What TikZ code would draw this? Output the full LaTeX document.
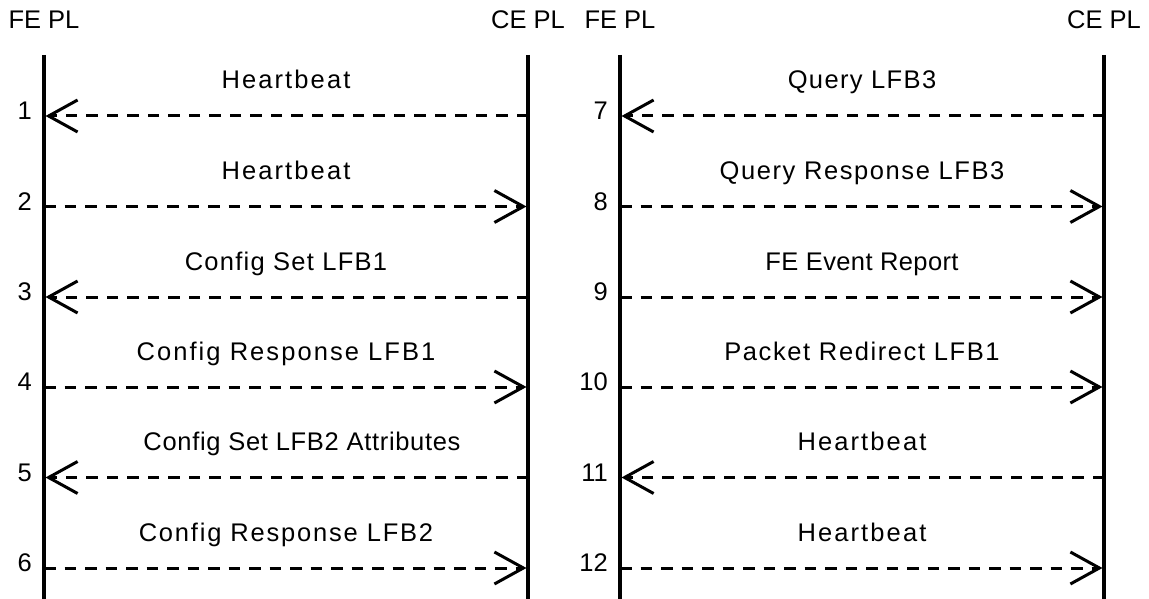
\documentclass[tikz,border=0pt]{standalone}
\usepackage{fontspec}
\setmainfont{Liberation Sans}
\usetikzlibrary{arrows.meta,calc}
\begin{document}
\begin{tikzpicture}[x=1pt,y=-1pt,
  life/.style={line width=3.2pt},
  msg/.style={line width=3pt, dash pattern=on 11.5pt off 9pt,
    -{Straight Barb[length=29pt,width=32pt,line width=3pt]}, shorten >=1.5pt},
  txt/.style={font=\fontsize{25.5}{30}\selectfont, inner sep=0pt},
  lbl/.style={txt, anchor=base},
  num/.style={txt, anchor=base east},
  head/.style={txt, anchor=base}]
\useasboundingbox (0,0) rectangle (1149,599);
\foreach \n/\x/\t in {A/44/FE PL, B/528/CE PL, C/620/FE PL, D/1104/CE PL} {
  \node[head] (h\n) at (\x,29) {\t};
  \coordinate (t\n) at (\x,55);
  \coordinate (b\n) at (\x,599);
  \draw[life] (t\n) -- (b\n);
}
\foreach \i/\f/\s/\d/\y/\ls/\dx/\t in {
  1/A/B/A/116/8.3/0/Heartbeat,
  2/A/A/B/206.5/8.3/0/Heartbeat,
  3/A/B/A/297/5.0/0/Config Set LFB1,
  4/A/A/B/387/8.1/0/Config Response LFB1,
  5/A/B/A/477.5/2.7/16/Config Set LFB2 Attributes,
  6/A/A/B/568/7.1/0/Config Response LFB2,
  7/C/D/C/116/5.4/0/Query LFB3,
  8/C/C/D/206.5/6.2/0/Query Response LFB3,
  9/C/C/D/297/1.5/0/FE Event Report,
  10/C/C/D/387/6.3/0/Packet Redirect LFB1,
  11/C/D/C/477.5/8.3/0/Heartbeat,
  12/C/C/D/568/8.3/0/Heartbeat} {
  \path (t\s) ++(0,\y-55) coordinate (s\i);
  \path (t\d) ++(0,\y-55) coordinate (e\i);
  \draw[msg] (s\i) -- (e\i);
  \node[lbl] (l\i) at ($(s\i)!0.5!(e\i)+(\dx,-27)$) {\addfontfeature{LetterSpace=\ls}\t};
  \node[num] (n\i) at ($(t\f)+(-12,\y-55+3.5)$) {\i};
}
\end{tikzpicture}
\end{document}
